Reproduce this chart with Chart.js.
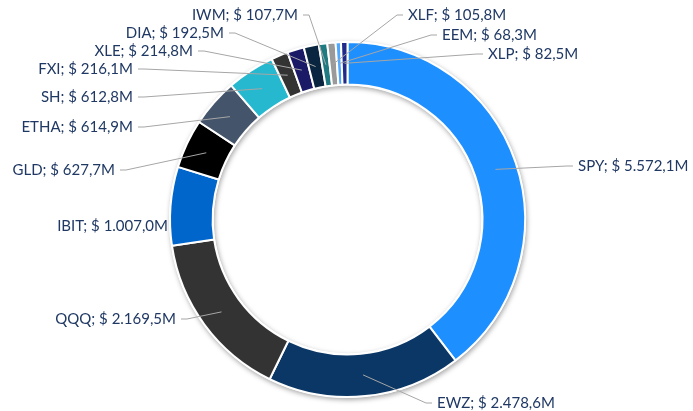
<!DOCTYPE html>
<html>
<head>
<meta charset="utf-8">
<script src="https://cdn.jsdelivr.net/npm/chart.js@4/dist/chart.umd.min.js"></script>
<style>
  html, body { margin: 0; padding: 0; background: #fff; }
  #wrap { width: 693px; height: 411px; position: relative; }
</style>
</head>
<body>
<div id="wrap"><canvas id="donutChart"></canvas></div>
<script>
// ETF flows, $ millions
var tickers = ["SPY", "EWZ", "QQQ", "IBIT", "GLD", "ETHA", "SH", "FXI", "XLE", "DIA", "IWM", "XLF", "EEM", "XLP"];
var flows = [5572.1, 2478.6, 2169.5, 1007.0, 627.7, 614.9, 612.8, 216.1, 214.8, 192.5, 107.7, 105.8, 68.3, 82.5];
var sliceColors = ["#1E8FFF", "#0B3766", "#333333", "#0066CC", "#000000", "#44546A", "#26B8CF",
                   "#333333", "#1A1A66", "#0A2540", "#1F7A82", "#9A9A9A", "#4FA8FF", "#1F2A8A"];

function fmtMoney(v) {
  var parts = v.toFixed(1).split(".");
  var intPart = parts[0].replace(/\B(?=(\d{3})+(?!\d))/g, ".");
  return "$ " + intPart + "," + parts[1] + "M";
}

// where Excel put each label (text placement only); side = which side of the text the leader attaches to
var labelSpots = [
  { x: 578, y: 166, side: "left" },   // SPY
  { x: 437, y: 403, side: "left" },   // EWZ
  { x: 176, y: 319, side: "right" },  // QQQ
  { x: 168, y: 226, side: "right", noLine: true }, // IBIT
  { x: 115, y: 170, side: "right" },  // GLD
  { x: 133, y: 127, side: "right" },  // ETHA
  { x: 133, y: 97, side: "right" },   // SH
  { x: 133, y: 69, side: "right" },   // FXI
  { x: 193, y: 51, side: "right" },   // XLE
  { x: 224, y: 33, side: "right" },   // DIA
  { x: 298, y: 15, side: "right" },   // IWM
  { x: 408, y: 15, side: "left" },    // XLF
  { x: 442, y: 35, side: "left" },    // EEM
  { x: 488, y: 54, side: "left" }     // XLP
];

var ringShadow = {
  id: "ringShadow",
  beforeDatasetsDraw: function(chart) {
    var arc = chart.getDatasetMeta(0).data[0];
    if (!arc) return;
    var ctx = chart.ctx;
    ctx.save();
    ctx.shadowColor = "rgba(0,0,0,0.35)";
    ctx.shadowBlur = 5;
    ctx.shadowOffsetX = 1;
    ctx.shadowOffsetY = 2;
    ctx.fillStyle = "#ffffff";
    ctx.beginPath();
    ctx.arc(arc.x, arc.y, arc.outerRadius + 1, 0, Math.PI * 2);
    ctx.arc(arc.x, arc.y, arc.innerRadius - 1, 0, Math.PI * 2, true);
    ctx.fill();
    ctx.restore();
  }
};

var outsideLabels = {
  id: "outsideLabels",
  afterDatasetsDraw: function(chart) {
    var ctx = chart.ctx;
    var meta = chart.getDatasetMeta(0);
    ctx.save();
    ctx.font = "15px Lato, 'Liberation Sans', sans-serif";
    ctx.textBaseline = "middle";
    meta.data.forEach(function(arc, i) {
      var spot = labelSpots[i];
      var mid = (arc.startAngle + arc.endAngle) / 2;
      var r = (arc.innerRadius + arc.outerRadius) / 2;
      var ax = arc.x + Math.cos(mid) * r;
      var ay = arc.y + Math.sin(mid) * r;
      var text = tickers[i] + "; " + fmtMoney(flows[i]);

      if (!spot.noLine) {
        var dir = spot.side === "left" ? -1 : 1;
        var ex = spot.x + dir * 5;
        ctx.strokeStyle = "#A6A6A6";
        ctx.lineWidth = 1;
        ctx.beginPath();
        ctx.moveTo(ax, ay);
        ctx.lineTo(ex + dir * 6, spot.y);
        ctx.lineTo(ex, spot.y);
        ctx.stroke();
      }

      ctx.fillStyle = "#1F3864";
      ctx.textAlign = spot.side === "left" ? "left" : "right";
      ctx.fillText(text, spot.x, spot.y);
    });
    ctx.restore();
  }
};

var ctx = document.getElementById("donutChart").getContext("2d");
var donut = new Chart(ctx, {
  type: "doughnut",
  data: {
    labels: tickers,
    datasets: [{
      data: flows,
      backgroundColor: sliceColors,
      borderColor: "#ffffff",
      borderWidth: 2
    }]
  },
  options: {
    responsive: true,
    maintainAspectRatio: false,
    animation: false,
    cutout: "76%",
    layout: { padding: { top: 41, bottom: 13, left: 2, right: 0 } },
    plugins: {
      legend: { display: false },
      tooltip: { enabled: false }
    }
  },
  plugins: [ringShadow, outsideLabels]
});
</script>
</body>
</html>
